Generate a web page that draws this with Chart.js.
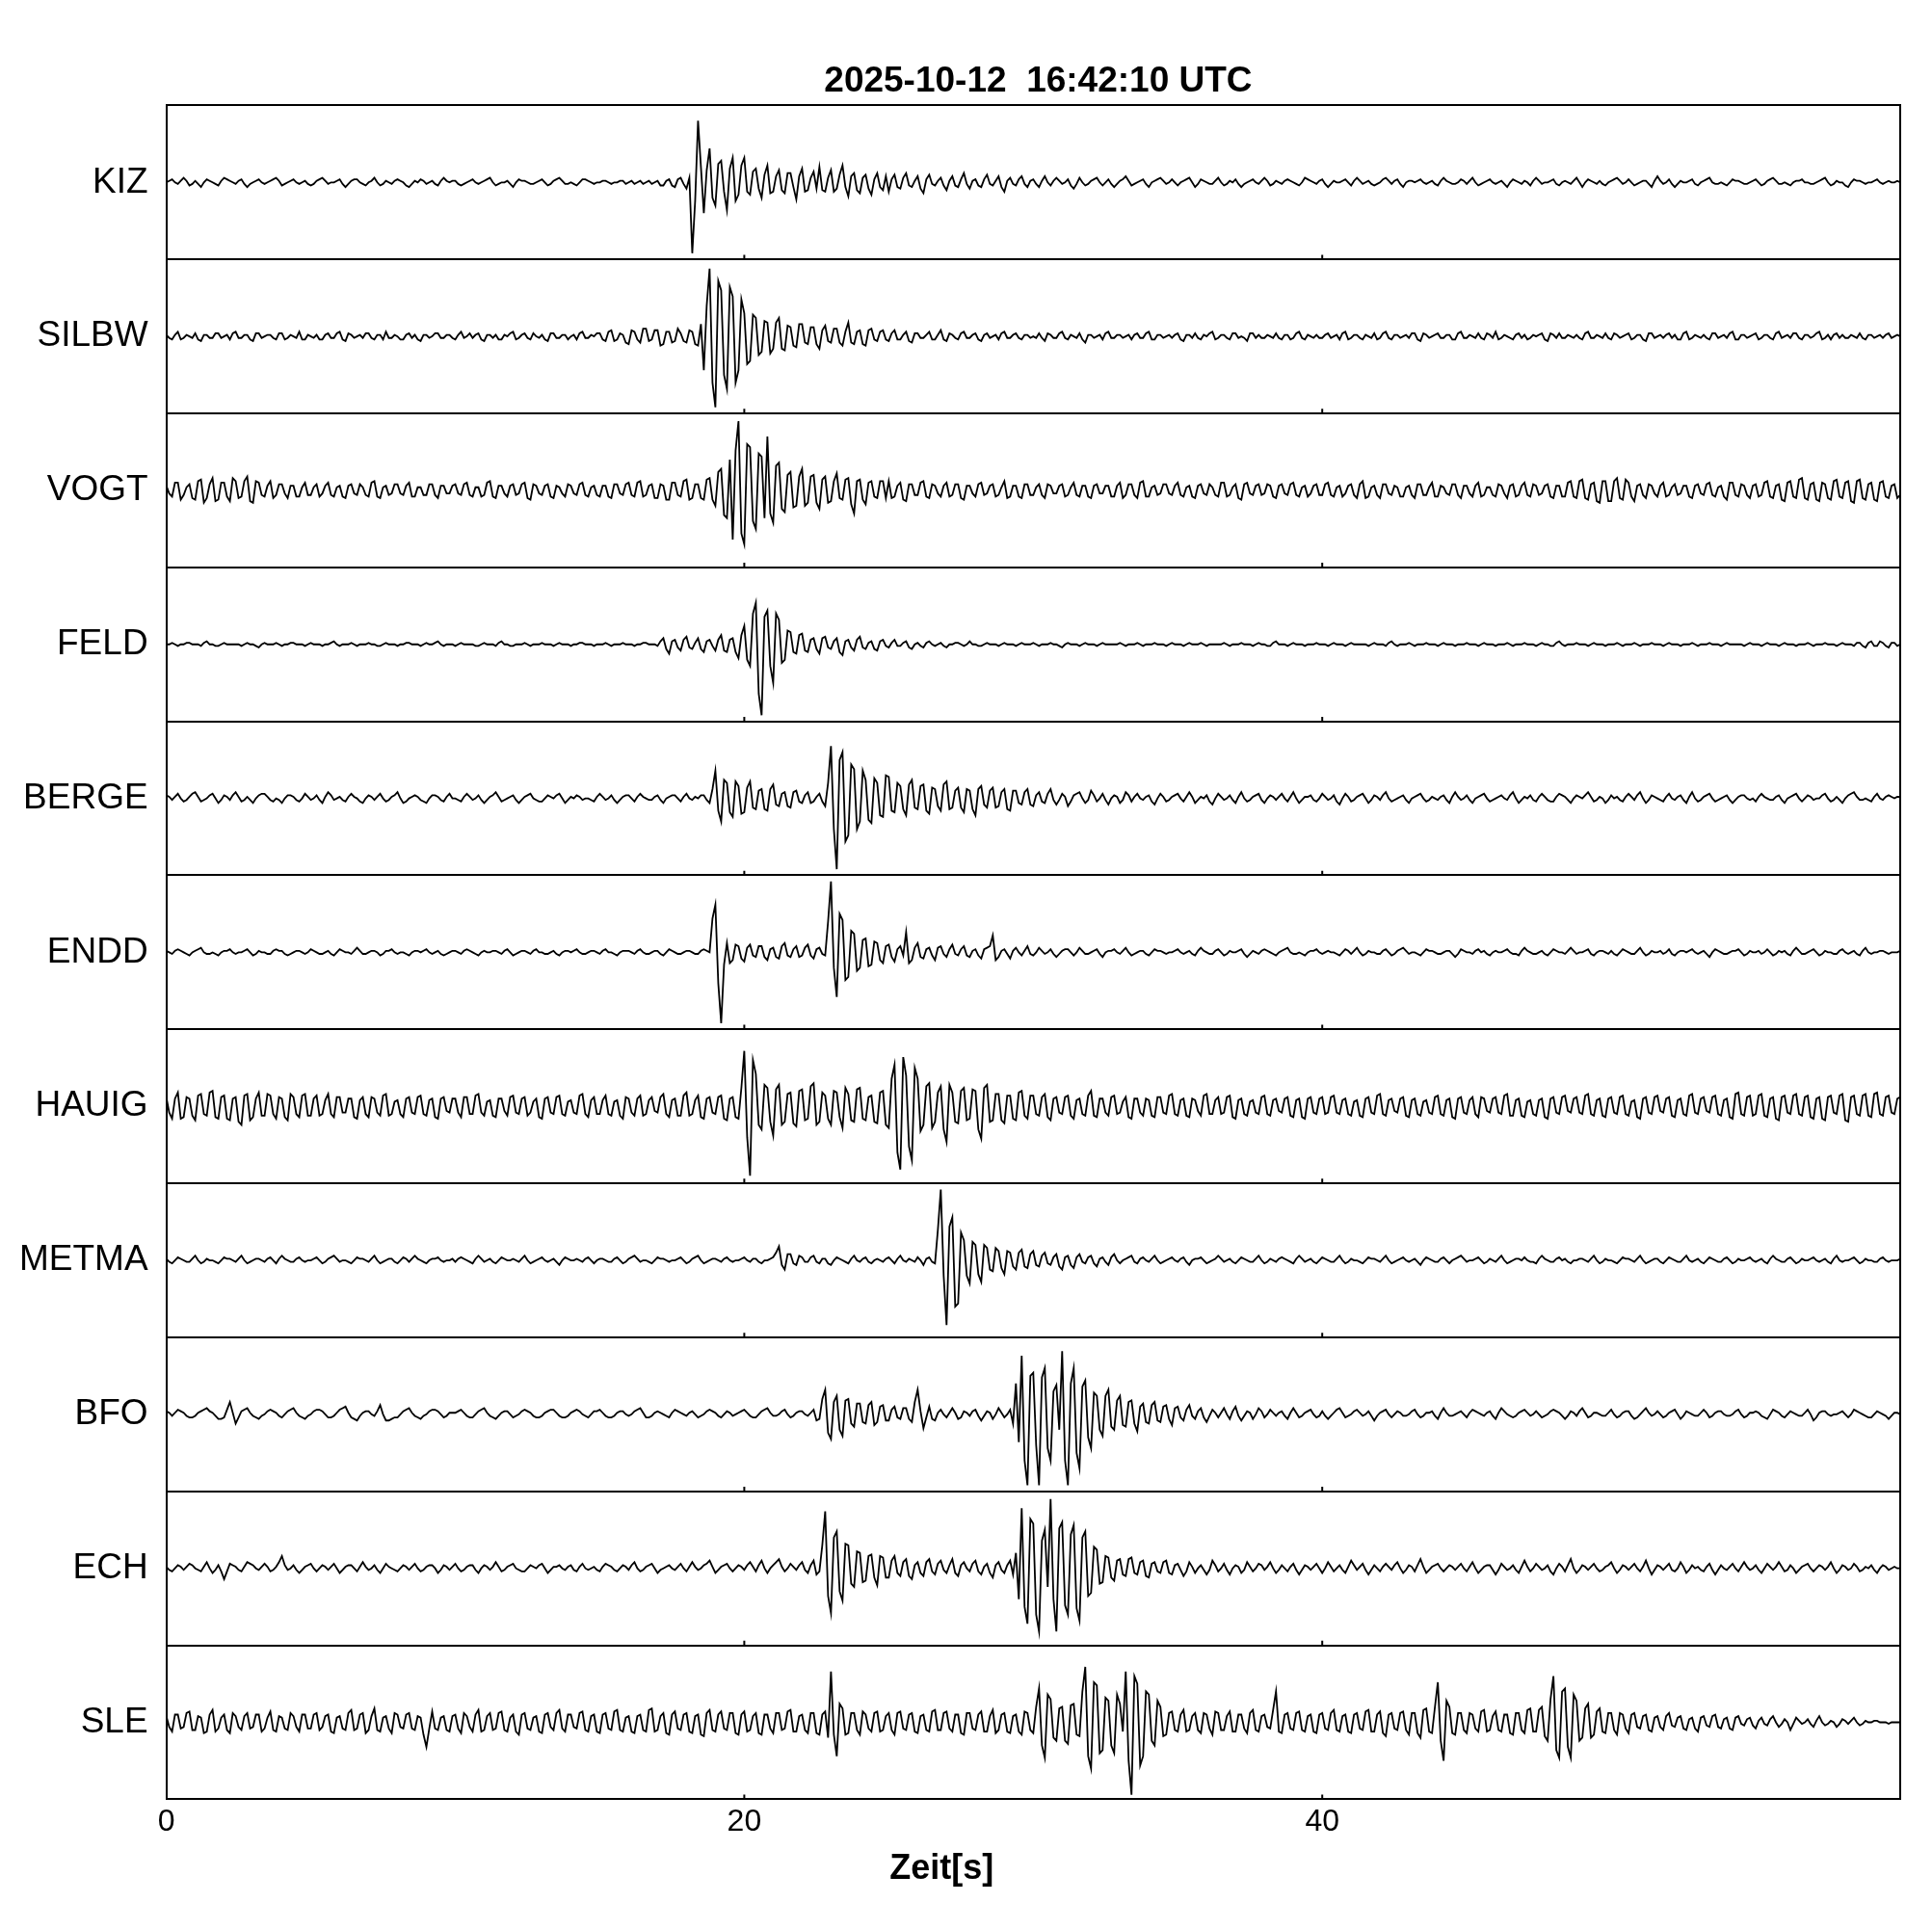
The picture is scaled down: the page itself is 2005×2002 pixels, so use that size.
<!DOCTYPE html>
<html>
<head>
<meta charset="utf-8">
<script src="https://cdn.jsdelivr.net/npm/chart.js@4/dist/chart.umd.min.js"></script>
<style>html,body{margin:0;padding:0;background:#fff;}canvas{display:block;}</style>
</head>
<body>
<canvas id="c" width="2005" height="2002"></canvas>
<script>
const titleText = '2025-10-12  16:42:10 UTC';
const xAxisTitle = 'Zeit[s]';
const stations = ['KIZ','SILBW','VOGT','FELD','BERGE','ENDD','HAUIG','METMA','BFO','ECH','SLE'];
const sampleInterval = 0.1; // seconds between samples
const xTickValues = [0, 20, 40];
const xMin = 0, xMax = 60;

// amplitudes: +-50 = half panel height; one row = 5 s
const KIZ = [
0,1,2,0,-1,1,3,1,-2,-1,1,-1,-3,0,2,1,0,-1,-2,1,3,2,1,0,-1,1,2,-1,-3,-1,0,1,2,0,-1,0,1,2,3,1,-2,-1,0,1,2,0,-1,0,1,-1,
-2,-1,1,2,3,1,-1,0,0,1,2,-1,-3,-1,1,2,2,0,-1,-2,0,1,3,0,-2,-1,1,0,-1,1,2,1,0,-2,-3,-1,1,0,2,1,-1,0,1,-1,-2,1,3,1,0,1,
1,-1,-2,-1,0,1,2,0,-1,0,1,2,3,0,-2,-1,0,0,1,-1,-3,0,2,1,1,0,-1,-1,0,1,2,0,-2,-1,1,2,3,1,-1,-1,0,-1,-2,0,2,2,1,0,-1,0,
0,1,1,0,-1,0,0,1,1,-1,0,1,-1,0,1,-1,0,1,-1,0,1,-2,-2,1,2,-2,-3,2,3,-1,-4,3,-46,-12,40,10,-20,8,22,-10,-15,12,14,-6,-18,9,16,-12,-8,11,
16,-6,-8,7,9,-4,-10,5,11,-7,-6,4,8,-5,-7,6,6,-3,-11,4,9,-6,-5,3,7,-4,10,-5,-6,3,8,-6,-4,5,11,-3,-9,4,6,-5,-7,3,5,-4,-8,2,6,-3,-5,4,
-6,2,5,-3,-4,3,6,-2,-3,1,4,-4,-7,2,5,-1,-2,1,3,-2,-5,1,4,-2,-3,2,6,-1,-4,1,2,-2,-3,2,5,-1,-2,1,4,-3,-6,1,3,-1,-2,2,4,-1,-3,1,
2,-1,-3,1,4,0,-2,1,3,1,-1,0,2,-2,-4,-1,3,0,-2,-1,1,2,3,0,-2,0,2,-1,-3,-1,1,2,4,1,-2,-1,0,1,2,-1,-3,0,1,2,3,1,-1,0,2,0,
-2,0,1,2,3,0,-3,-1,2,1,0,-1,-1,1,3,0,-2,-1,1,0,2,-1,-3,-1,0,1,2,0,-1,1,3,1,-2,-1,1,0,-1,1,2,1,0,-1,-2,0,3,2,1,0,-1,1,
2,-1,-3,-1,1,0,0,1,2,0,-2,1,3,1,-1,0,1,-1,-2,-1,0,2,3,1,-1,1,2,-1,-3,0,1,1,0,1,2,0,-1,0,1,-1,-2,1,3,1,0,-1,-1,0,2,1,
-1,1,3,0,-2,-1,0,1,2,0,-1,0,1,-1,-3,0,2,1,0,-1,1,0,-2,1,3,1,-1,0,0,1,2,-1,-2,0,1,0,-1,1,3,0,-3,0,2,1,0,-1,1,-1,-2,0,
1,2,3,1,-1,0,2,0,-2,-1,0,1,1,-1,-3,1,4,1,-1,0,2,-1,-3,-1,1,0,0,1,2,-1,-2,0,1,2,3,0,-1,-1,0,-1,-2,0,2,1,1,0,-1,-1,0,1,
2,0,-2,-1,1,2,3,1,-1,-1,0,-1,-2,0,1,1,2,0,0,-1,-1,0,1,2,3,0,-2,-1,1,0,0,-2,-3,0,2,1,1,0,-1,0,0,1,2,0,-1,0,1,0,0,1,0];

const SILBW = [
1,-1,-2,1,3,-2,-1,1,0,-1,2,-2,-3,1,1,-1,-1,2,2,-1,0,1,-2,2,3,-1,-1,1,1,-2,-3,2,2,-1,0,1,1,-1,-2,2,2,-2,-1,1,0,-1,3,-2,-2,1,
0,-1,1,-2,-2,1,2,-1,-1,2,3,-2,-3,2,1,-1,0,1,-1,2,2,-1,-2,1,1,-2,3,-1,-1,1,0,-2,-2,1,2,-1,1,-2,-3,1,1,-1,0,2,2,-1,-1,1,1,-1,
-2,1,3,-1,0,2,-1,1,2,-2,-3,1,1,-1,1,-2,-2,1,0,2,3,-2,-1,1,2,-1,-2,2,0,-1,1,-2,-3,2,2,-1,-1,1,1,-2,0,1,-2,2,3,-1,-1,1,0,2,
2,-2,-3,3,4,-3,-2,2,1,-4,-5,4,3,-2,-4,5,5,-3,-2,4,4,-6,-5,3,3,-4,-3,5,2,-3,-4,4,3,-5,-6,8,-22,20,44,-30,-46,36,30,-25,-34,32,26,-30,-22,24,
15,-18,-16,14,12,-12,-10,10,9,-11,-8,9,12,-8,-9,7,6,-6,-7,8,8,-4,-5,6,6,-5,-8,4,7,-3,-4,5,5,-4,-6,3,9,-4,-5,3,4,-5,-6,4,5,-2,-3,3,4,-2,
-3,2,4,-2,-2,1,3,-3,-4,2,2,-1,-1,1,3,-2,-2,1,4,-2,-3,2,1,-1,-2,2,3,-1,-1,1,2,-2,-3,1,2,-1,0,1,-2,2,3,-1,-1,1,2,-1,-2,1,1,-1,
0,-1,2,-1,-3,2,1,-1,-1,2,3,-1,-2,1,0,-1,2,-2,-4,1,1,-1,0,1,-2,2,3,-1,-1,1,1,-1,0,1,-2,1,2,-1,-1,2,3,-2,-2,1,1,-1,0,1,-1,1,
2,-2,-3,1,1,-1,2,-1,-2,1,0,2,3,-2,-1,1,1,-1,-2,2,2,-1,0,-1,-3,2,2,-1,1,-1,-1,1,0,-1,2,-1,-2,1,1,-2,-1,2,3,-1,-2,1,0,-1,1,-1,
-1,1,2,-1,0,1,-2,2,3,-2,-1,1,1,-1,-2,1,0,-1,2,-2,-1,2,3,-1,-2,1,1,-1,0,1,-1,2,2,-2,-3,2,1,-1,0,1,2,-1,-1,1,1,-2,-2,2,3,-1,
-1,1,0,-1,2,-1,-2,2,1,-1,3,-2,-1,1,0,-1,-2,1,2,-1,1,-2,-1,1,0,1,2,-2,-3,2,1,-1,2,-1,-1,1,0,-1,1,-1,-2,2,3,-1,-1,1,0,-1,2,-1,
-2,2,1,-1,0,1,2,-2,-1,1,1,-2,-3,2,2,-1,0,1,-1,1,2,-1,1,-2,-2,2,3,-2,-1,1,0,-1,1,-1,-2,2,2,-1,0,1,-1,2,3,-2,-2,1,1,-1,0,1,
2,-2,-1,1,1,-1,-2,2,3,-1,0,1,-1,2,2,-1,-2,1,1,-1,0,2,3,-2,-1,1,-2,1,2,-1,1,-1,-1,1,0,-1,2,-1,-2,1,1,-1,0,1,-1,1,2,-1,0,1,0];

const VOGT = [
3,-2,-4,5,5,-6,-3,2,4,-5,-6,6,7,-8,-5,4,8,-7,-6,5,5,-4,-7,8,6,-5,-4,6,9,-7,-8,6,5,-3,-4,3,6,-5,-3,4,4,-2,-5,3,3,-4,-4,2,5,-3,
-3,2,4,-4,-2,3,5,-3,-4,2,3,-4,-5,3,4,-2,-3,4,2,-3,-4,5,6,-4,-5,2,3,-3,-2,4,4,-2,-3,3,5,-4,-4,2,2,-3,-3,4,4,-3,-5,3,3,-2,-2,3,
4,-2,-3,4,5,-3,-4,2,2,-4,-3,5,6,-4,-5,3,3,-2,-4,3,4,-3,-2,4,5,-5,-6,4,3,-2,-3,3,4,-4,-5,3,2,-2,-4,4,3,-2,-3,4,5,-3,-4,2,3,-3,
-4,3,3,-4,-5,4,4,-2,-3,4,5,-3,-4,5,6,-4,-3,3,4,-5,-5,4,3,-6,-6,5,5,-3,-4,6,7,-6,-5,4,4,-5,-6,7,8,-6,-10,12,14,-16,-18,20,-32,26,45,-28,
-35,30,28,-20,-25,24,22,-18,35,-15,-21,16,18,-12,-14,10,12,-11,-10,9,14,-10,-8,9,10,-8,-12,7,9,-8,-7,6,11,-5,-6,7,8,-9,-15,6,7,-6,-9,5,6,-4,-5,6,6,-5,
6,-5,-4,3,5,-6,-7,4,4,-3,-3,5,6,-4,-5,4,3,-2,-4,3,5,-4,-3,4,4,-5,-6,3,3,-2,-4,4,5,-3,-2,3,4,-4,-3,2,6,-5,-4,3,3,-4,-5,4,4,-3,
-3,2,4,-3,-5,4,3,-2,-2,3,4,-4,-3,2,5,-3,-4,3,3,-4,-5,3,4,-2,-2,3,3,-4,-4,3,5,-5,-3,4,4,-3,-5,5,6,-4,-4,2,3,-3,-2,4,4,-2,-3,3,
5,-3,-4,2,3,-4,-5,3,4,-2,-3,4,2,-3,-4,5,5,-4,-3,2,4,-5,-6,4,5,-2,-3,3,4,-3,-2,4,3,-4,-5,3,4,-2,-3,4,5,-3,-4,2,3,-4,-2,3,4,-3,
-3,4,5,-3,-4,2,3,-4,-2,3,4,-3,-5,4,6,-5,-4,2,3,-3,-5,4,4,-2,-3,3,2,-4,-4,2,3,-3,-5,4,4,-3,-3,2,5,-4,-4,3,2,-2,-3,4,4,-3,-5,3,
3,-2,-4,3,5,-4,-3,2,2,-3,-4,4,3,-2,-5,3,4,-4,-3,3,5,-3,-4,4,3,-3,-2,3,4,-4,-5,3,3,-4,-4,5,6,-4,-5,6,7,-5,-6,4,5,-7,-8,6,6,-7,
-7,6,8,-5,-6,7,5,-4,-7,3,4,-3,-5,4,3,-2,-4,3,5,-4,-3,2,4,-3,-2,3,3,-4,-5,3,4,-2,-3,4,5,-3,-4,2,3,-4,-6,5,5,-3,-4,4,3,-3,-5,3,
4,-4,-3,5,6,-4,-5,3,4,-6,-7,5,6,-4,-5,7,8,-5,-6,4,5,-6,-7,5,4,-5,-6,6,7,-4,-5,5,6,-7,-8,6,7,-5,-6,4,5,-6,-7,5,6,-4,-5,3,4,-5,-3];

const FELD = [
0,0,1,0,-1,0,0,1,1,0,0,0,-1,1,2,0,0,-1,-1,0,1,0,0,0,0,0,-1,0,1,0,0,-1,-2,0,1,0,0,0,1,0,-1,0,0,1,1,0,0,0,-1,0,
1,0,0,0,-1,0,0,1,2,0,-1,0,0,0,1,0,-1,0,0,0,1,0,0,-1,-1,0,1,0,0,0,-1,0,0,1,1,0,0,0,-1,0,1,0,0,1,2,0,-1,0,0,0,
-1,0,1,0,0,0,0,-1,-1,0,1,0,0,0,-1,1,2,0,0,-1,-1,0,0,0,1,0,-1,0,0,0,1,0,0,0,-1,0,1,0,0,0,-1,0,0,1,1,0,0,0,-1,0,
0,0,1,0,-1,0,0,0,1,0,0,0,-1,0,0,1,1,0,0,0,-1,2,4,-3,-6,2,3,-2,-4,3,5,-2,-3,1,4,-3,-5,2,3,-1,-4,3,6,-4,-5,3,4,-5,-9,6,
12,-10,-14,20,27,-32,-46,18,22,-14,-25,20,16,-12,-10,9,8,-5,-6,6,7,-4,-5,3,4,-3,-6,4,5,-2,-3,2,4,-5,-7,2,3,-2,-4,3,5,-2,-3,1,2,-3,-4,2,3,-1,
-2,1,3,-1,-1,1,2,-2,-3,0,1,-1,-2,1,2,0,-1,0,1,-1,-2,0,0,1,1,0,-1,0,2,0,0,-1,-1,0,1,0,0,0,-1,0,1,0,0,0,-1,0,1,0,0,0,
1,0,-1,0,0,0,1,0,0,-1,-2,0,1,0,0,0,-1,0,1,0,0,0,-1,0,1,0,0,0,0,0,1,0,-1,0,0,0,1,0,-1,0,0,0,1,0,0,0,-1,0,1,0,
0,0,-1,0,1,0,0,0,1,0,-1,0,0,0,0,0,1,0,-1,0,0,0,1,0,0,0,-1,0,1,0,0,-1,-1,1,2,0,0,0,-1,0,1,0,0,0,-1,0,0,0,1,0,
0,0,-1,0,1,0,0,0,-1,0,1,0,0,0,0,0,-1,0,1,0,0,0,-1,1,2,0,-1,0,0,0,1,0,-1,0,0,0,1,0,0,0,-1,0,1,0,0,0,-1,0,0,0,
1,0,0,0,-1,0,1,0,0,0,-1,0,0,0,1,0,-1,0,0,0,1,0,0,0,-1,0,1,0,0,-1,-1,1,2,0,-1,0,0,0,1,0,0,0,-1,0,1,0,0,0,-1,0,
0,0,1,0,-1,0,0,0,1,0,-1,0,0,0,1,0,0,0,-1,0,1,0,0,0,-1,0,0,0,1,0,-1,0,0,0,1,0,0,0,-1,0,1,0,0,0,0,0,-1,0,1,0,
0,0,-1,0,1,0,0,0,-1,0,1,0,0,0,-1,0,0,0,1,0,-1,0,0,0,1,0,0,0,-1,0,1,0,0,0,-1,1,1,-1,-2,1,2,-1,-1,2,1,-1,-2,1,1,-1,0];

const BERGE = [
2,1,-1,1,3,0,-2,-1,1,3,4,1,-2,-1,0,2,3,0,-3,-1,2,1,-1,2,4,1,-2,-1,1,-1,-3,0,2,3,3,1,-1,-2,0,-1,-3,0,2,2,1,-1,-2,0,3,1,
-1,0,2,-1,-3,1,4,2,-1,0,1,-1,-2,1,3,1,0,-2,-3,0,2,1,-1,1,3,0,-2,-1,1,2,4,0,-3,-2,0,1,2,1,-1,-2,-3,0,2,2,1,-1,-2,1,3,0,
0,-1,-2,1,3,1,-1,0,2,-1,-3,-1,1,2,4,1,-2,-1,0,1,2,-1,-3,-1,1,2,3,0,-1,-2,-2,0,2,1,0,2,3,0,-3,-1,1,0,2,1,-1,0,0,-1,-2,1,
3,1,-1,0,2,-1,-3,-1,1,2,2,0,-2,1,3,1,0,-1,-1,1,2,-1,-3,0,1,2,2,0,-2,1,3,0,-1,1,0,2,2,-1,-3,6,18,-8,-15,12,10,-9,-12,11,8,-10,
-9,7,11,-6,-7,5,6,-7,-8,6,9,-4,-5,3,4,-5,-6,4,5,-2,-3,2,4,-3,-2,1,3,-2,-5,10,34,-20,-46,25,30,-28,-24,22,19,-20,-15,18,12,-14,-16,13,10,-11,-12,15,
14,-8,-9,10,8,-7,-11,9,12,-6,-7,8,9,-8,-10,7,6,-5,-8,9,11,-7,-6,5,7,-6,-9,6,5,-7,-11,6,8,-4,-6,5,7,-6,-5,4,6,-7,-8,5,5,-3,-4,4,6,-4,
-5,2,4,-2,-3,3,6,-1,-4,-1,3,1,-5,-2,2,3,4,0,-3,-1,5,2,-2,0,3,-1,-4,0,2,1,-3,-1,4,2,-2,1,3,0,-1,1,2,-2,-4,0,3,1,-2,-1,1,2,
3,0,-2,1,4,1,-3,-1,1,0,2,-2,-4,0,3,1,-1,0,2,-1,-3,1,4,0,-2,-1,1,2,3,-1,-3,0,2,1,-1,1,3,0,-2,1,4,0,-3,-1,1,1,2,-1,-2,0,
3,1,-1,0,2,-2,-4,0,3,1,-2,-1,1,2,3,0,-3,-1,2,1,-1,2,4,0,-2,-1,0,1,2,-1,-3,0,1,2,3,0,-2,-1,1,0,-1,1,2,-1,-3,1,4,1,-1,0,
2,-1,-3,0,1,2,3,0,-2,-1,0,1,2,0,-1,2,4,0,-3,-1,1,0,2,-1,-2,1,3,1,-1,-2,-2,1,3,2,1,-1,-3,0,2,1,0,2,4,1,-2,-1,1,0,-3,-1,
2,0,1,-1,-2,1,3,1,-1,2,4,0,-3,-1,2,1,0,-1,-2,1,3,0,-1,1,2,-1,-3,1,4,0,-2,-1,1,2,3,0,-2,-1,0,1,2,-1,-3,-1,1,2,2,0,-1,0,
-2,1,3,1,0,-1,-1,1,2,-1,-3,0,1,2,3,0,-2,0,2,1,-1,0,0,2,3,0,-2,-1,1,-1,-3,0,2,3,4,1,-1,-1,0,-1,-2,1,3,0,-1,1,2,1,0,1,1];

const ENDD = [
1,0,-1,1,2,1,0,-1,-2,0,1,2,3,0,-1,-1,0,-1,-2,0,1,1,2,0,-1,0,0,1,2,0,-2,-1,1,0,0,-1,-1,1,2,1,1,-1,-2,-1,0,1,1,0,-1,0,
2,1,0,-1,-1,0,1,-1,-2,0,2,1,0,0,-1,1,3,1,-1,-1,0,1,1,0,-2,-1,1,1,2,0,-1,0,0,-1,-2,0,1,1,0,1,2,0,-1,0,1,-1,-2,-1,0,1,
1,0,-1,1,2,1,0,-1,-2,0,1,0,0,1,1,0,-1,1,2,0,-2,-1,0,1,1,0,-1,1,2,0,0,-1,-1,0,1,-1,-2,0,1,1,0,1,2,0,-1,-1,0,1,1,0,
-1,1,2,0,0,-1,-2,0,1,1,1,0,-1,1,2,0,-1,-1,0,1,1,-1,-2,0,2,1,0,-1,-1,0,1,1,0,-1,-1,1,2,1,0,22,31,-20,-46,-8,6,-7,-5,5,4,-4,
-6,3,5,-2,-3,4,4,-3,-5,2,3,-3,-4,4,6,-2,-3,2,4,-3,-2,3,5,-2,-4,2,3,-1,-2,20,46,-10,-29,25,21,-18,-16,14,12,-12,-10,8,9,-9,-8,7,6,-5,-7,4,
5,-3,-6,2,4,-2,13,-7,-5,3,6,-3,-4,2,3,-2,-5,3,4,-1,-3,2,5,-1,-2,2,4,-2,-3,1,2,-2,-4,2,3,4,11,-5,-3,1,2,-1,-4,1,3,0,-2,1,4,-1,
-2,0,3,1,-1,0,2,-1,-3,-1,1,2,2,0,-2,0,3,1,-1,-1,0,1,2,-1,-3,0,1,1,2,0,-1,1,3,0,-2,-1,0,1,1,-1,-2,0,2,1,1,0,-1,0,0,1,
2,0,-1,0,1,-1,-2,1,3,1,0,-1,-1,1,2,0,-2,-1,1,0,0,1,2,-1,-3,-1,1,0,-1,1,2,1,0,-1,-2,0,1,2,3,0,-1,-1,0,-1,-2,0,1,1,2,0,
-1,0,1,0,0,-1,-2,0,2,1,-1,1,3,0,-2,-1,1,0,0,-1,-1,1,2,0,-2,-1,1,2,3,1,-1,0,0,-1,-2,0,2,1,1,0,-1,-1,0,1,1,-1,-3,-1,2,1,
0,0,-1,1,2,0,1,-1,-2,0,1,0,0,1,2,0,-1,-1,-2,1,3,1,0,-1,-1,0,1,-1,-2,0,2,1,0,0,-1,1,3,1,-1,0,0,1,2,-1,-2,0,1,1,0,-1,
1,-1,-2,0,2,1,0,-1,-1,1,3,0,-2,-1,1,0,0,1,-1,0,2,-1,-2,0,1,1,0,1,2,0,-1,0,1,-1,-3,0,2,1,0,-1,-1,0,1,1,2,0,-2,-1,1,0,
0,1,-1,0,2,0,-2,-1,1,0,1,-1,-2,1,3,1,-1,-1,0,1,2,0,-2,-1,1,0,0,-1,-1,1,2,0,-1,0,1,-1,-2,1,3,0,-1,0,0,1,1,0,-1,0,0,0,1];

const HAUIG = [
6,-4,-8,5,9,-8,-7,6,5,-6,-9,7,8,-5,-6,9,10,-7,-8,6,7,-8,-9,5,6,-10,-12,7,8,-9,-7,5,9,-6,-6,8,7,-5,-8,6,5,-7,-9,8,6,-5,-7,7,8,-6,
-6,5,7,-6,-5,4,8,-5,-7,6,6,-4,-4,5,5,-7,-8,4,6,-5,-7,6,5,-4,-6,7,8,-6,-5,3,4,-5,-7,5,6,-4,-5,6,7,-5,-6,4,5,-7,-8,5,6,-3,-4,5,
5,-4,-7,6,6,-5,-5,7,8,-4,-6,3,4,-6,-7,5,5,-3,-6,6,7,-4,-5,5,6,-6,-4,3,5,-7,-8,5,6,-4,-5,6,7,-5,-6,3,4,-4,-5,7,8,-5,-7,4,6,-5,
-5,4,7,-5,-6,3,4,-6,-8,6,5,-4,-6,5,7,-6,-5,4,6,-3,-4,6,8,-5,-7,4,5,-6,-6,7,9,-6,-5,4,7,-7,-8,5,6,-4,-5,6,7,-8,-9,5,6,-7,-8,12,
36,-20,-45,30,21,-12,-15,14,12,-10,-19,11,14,-12,-10,8,9,-11,-13,10,11,-9,-8,13,15,-12,-10,9,7,-8,-12,10,9,-7,-14,12,8,-9,-10,11,12,-8,-9,6,7,-10,-11,9,10,-12,
-14,18,27,-30,-41,32,20,-26,-35,25,18,-16,-12,13,15,-14,-10,9,13,-15,-23,14,9,-10,-11,10,12,-9,-8,11,10,-15,-21,12,14,-10,-9,8,8,-9,-11,7,7,-8,-9,9,10,-6,-8,7,
7,-5,-6,6,8,-7,-9,5,6,-4,-5,6,7,-6,-8,4,5,-5,-6,7,10,-6,-7,5,5,-4,-6,6,7,-5,-4,3,6,-7,-8,5,5,-4,-6,5,4,-6,-7,6,6,-4,-5,7,8,-5,
-6,4,5,-6,-7,5,4,-3,-6,7,8,-5,-5,4,6,-5,-4,6,7,-7,-8,4,5,-5,-6,3,4,-4,-5,6,7,-5,-6,4,5,-3,-4,5,6,-6,-7,4,5,-7,-8,5,6,-4,-5,5,
6,-5,-4,6,7,-4,-5,4,5,-5,-6,3,4,-6,-7,5,6,-4,-5,7,8,-5,-6,4,5,-3,-4,5,6,-6,-7,4,5,-5,-6,3,4,-4,-5,6,7,-5,-6,4,5,-7,-8,5,6,-4,
-5,4,6,-5,-7,6,5,-3,-4,5,6,-4,-5,7,8,-6,-6,4,5,-6,-7,3,4,-5,-6,4,5,-7,-8,5,6,-4,-5,6,7,-3,-4,5,6,-4,-5,7,8,-5,-6,4,5,-6,-7,5,
6,-4,-5,6,7,-5,-6,3,4,-7,-8,5,6,-4,-5,6,7,-3,-4,5,6,-6,-7,4,5,-5,-6,7,8,-4,-5,5,6,-3,-4,6,7,-5,-6,4,5,-7,-8,8,9,-5,-6,6,7,-6,
-5,7,8,-6,-7,5,6,-8,-9,6,7,-4,-5,7,8,-5,-6,6,7,-7,-8,5,6,-8,-9,6,7,-4,-5,7,8,-9,-10,6,7,-5,-6,7,8,-6,-7,8,9,-5,-6,6,7,-4,-5,5,6];

const METMA = [
1,-1,-2,0,2,1,0,-1,-1,1,3,0,-2,-1,1,0,0,-1,-2,0,2,1,1,0,-1,1,3,0,-2,-1,0,1,1,0,-1,1,2,0,-2,1,3,1,0,-1,-1,1,2,0,-1,0,
0,1,2,0,-2,-1,1,2,3,1,-1,0,0,-1,-2,0,2,1,1,0,-1,1,3,0,-2,-1,0,1,1,-1,-2,0,2,1,-1,1,3,1,0,-1,-2,0,1,1,2,0,-1,0,0,1,
-1,1,2,1,0,-1,-2,1,3,1,-1,0,1,-1,-2,0,2,1,0,0,1,0,-1,1,3,0,-2,-1,0,1,2,0,-1,0,1,-1,-3,0,2,1,0,0,1,0,-1,1,2,0,-2,0,
1,1,0,-1,-1,1,2,0,-2,-1,1,2,3,1,-1,0,0,-1,-2,0,2,1,1,0,-1,0,0,1,2,0,-2,-1,1,2,3,0,-2,-1,0,1,1,0,-1,1,2,0,-1,0,0,1,
2,0,-1,1,1,-1,-2,0,0,1,2,5,9,-3,-6,4,4,-2,-3,3,2,-1,-1,2,3,-1,-2,1,1,-2,-3,0,2,1,0,-1,-2,1,3,0,-1,1,2,-1,-2,0,1,0,-1,1,
2,0,-2,1,3,0,-1,1,0,-1,2,0,-3,1,2,-1,-2,20,46,-10,-42,22,28,-30,-28,18,13,-10,-15,12,10,-9,-14,10,8,-6,-7,8,6,-5,-9,6,5,-4,-6,5,7,-4,-5,4,
6,-3,-4,3,5,-2,-3,2,4,-4,-6,2,3,-3,-5,2,4,-1,-2,2,3,-2,-4,1,2,-1,-3,2,4,0,-2,0,1,2,3,-1,-2,1,2,0,-1,1,3,0,-2,-1,0,1,2,0,
-1,1,2,-1,-3,0,1,1,2,0,-2,-1,0,1,3,1,-1,0,1,-1,-2,0,2,1,0,-1,-1,1,3,0,-2,-1,1,0,-1,1,2,1,0,-1,-2,1,3,1,-1,0,1,-1,-2,0,
2,1,0,-1,-1,1,3,0,-2,-1,1,0,0,-1,-2,0,2,1,1,0,-1,1,3,0,-2,-1,0,1,2,0,-1,0,1,-1,-3,0,2,1,0,-1,-1,1,2,0,-2,0,1,2,3,1,
-1,0,0,1,2,0,-2,-1,1,0,-1,1,3,0,-2,-1,0,1,1,0,2,0,-1,-1,-2,1,3,1,0,-1,-1,1,2,0,1,-1,-2,0,0,1,1,0,-1,1,3,0,-2,-1,1,0,
0,-1,-2,0,2,1,1,0,-1,1,3,0,-2,-1,0,1,1,-1,-2,0,2,1,0,-1,-1,1,3,0,-1,0,1,-1,-2,0,2,1,0,-1,-1,1,2,0,-2,-1,1,0,0,1,2,0,
-1,0,1,-1,-2,1,3,1,0,-1,-1,1,2,0,-2,-1,1,0,0,1,2,0,-1,0,1,-1,-2,1,3,0,-1,0,0,1,2,0,-2,-1,1,0,0,-1,-1,1,2,0,-1,0,0,0,1];

const BFO = [
2,1,-1,1,3,2,1,-1,-2,-2,-1,1,2,3,4,2,1,-1,-3,-3,-2,3,8,1,-6,-2,2,3,4,1,-1,-2,-3,-1,0,2,3,2,1,-1,-2,0,2,3,4,1,-1,-2,-3,-1,
0,2,3,3,2,0,-2,-2,-1,1,3,4,5,1,-2,-3,-4,-1,1,2,2,0,-1,2,6,0,-4,-4,-3,-2,-2,0,2,3,4,1,-1,-2,-3,-1,0,2,3,3,2,0,-2,-1,1,1,
1,2,3,1,-1,-2,-2,0,2,3,4,1,-1,-2,-3,-1,1,2,2,0,-2,-1,0,2,3,2,1,-1,-2,-2,-1,1,2,3,3,1,-1,-2,-2,-1,1,2,3,2,0,-1,-2,0,2,2,
3,1,-1,-2,-2,-1,1,2,2,0,-1,0,2,3,4,1,-2,-2,-1,1,2,1,0,-1,-2,1,3,2,1,0,-1,1,2,0,-2,-1,0,2,3,2,1,-1,-2,0,2,1,-1,0,1,2,
3,1,-1,-2,-2,0,2,3,4,1,-1,-1,0,2,3,0,-2,-1,1,2,2,0,-1,1,3,-4,-3,10,16,-12,-16,8,12,-10,-14,9,10,-6,-8,7,7,-5,-6,6,8,-7,-5,5,6,-4,
-4,3,5,-2,-3,4,4,-3,-5,8,16,2,-9,-2,5,-3,-4,1,3,0,-2,1,4,1,-3,-2,2,1,-1,2,3,-1,-4,-1,2,1,-3,0,4,1,-2,0,3,-6,20,-18,38,-30,-46,25,
27,-20,-46,24,30,-22,-30,15,19,-10,41,-30,-46,20,30,-25,-35,18,22,-15,-22,14,12,-10,-14,12,16,-8,-10,9,12,-7,-8,8,9,-6,-11,5,7,-5,-6,6,8,-4,-5,5,6,-3,-7,4,
5,-2,-4,3,6,-1,-3,2,4,-2,-5,-1,3,1,-2,1,4,0,-3,2,5,-1,-4,-1,2,1,-3,0,4,2,-2,0,3,1,-1,1,2,-1,-3,1,4,1,-2,-1,1,2,3,0,-2,-1,
2,-1,-3,-1,1,3,4,1,-2,-1,0,2,3,1,-1,0,2,-1,-4,-1,1,2,3,0,-2,0,2,1,-1,-1,0,2,3,0,-2,-1,1,1,2,-1,-3,1,4,1,-1,-1,0,1,2,0,
-2,1,3,2,1,0,-1,1,2,-1,-3,1,4,2,0,-1,-2,-1,1,2,3,1,-1,0,2,0,-2,-1,0,2,3,2,1,-1,-3,-1,2,1,-1,2,4,1,-2,-1,1,1,0,-1,-1,1,
3,0,-2,-1,1,2,2,-1,-3,-2,0,2,4,1,-1,0,2,0,-2,-1,1,2,3,0,-3,-1,2,1,0,-1,-1,1,3,1,-2,-1,1,2,2,0,-1,-1,0,2,3,0,-2,-1,1,1,
2,1,-1,-2,-3,0,3,2,1,-1,-2,0,2,1,0,-1,-1,1,3,0,-4,-2,1,2,2,0,-1,0,0,1,2,0,-2,0,3,2,1,0,-1,-2,-2,0,2,1,0,-1,-3,-1,1,1,0];

const ECH = [
1,-1,-2,0,2,1,-1,1,3,2,0,-1,-2,1,4,0,-3,-1,2,-2,-7,-2,3,2,1,-1,-2,1,4,3,2,0,-1,1,3,1,-2,-1,1,4,8,2,-1,0,2,-1,-3,-1,1,2,
3,0,-2,0,2,1,-1,1,3,0,-3,-1,1,2,2,0,-2,1,4,1,-1,0,2,-1,-3,0,3,1,0,-1,-2,0,2,1,-1,1,3,0,-2,-1,1,2,2,0,-3,-1,2,1,-1,1,
3,0,-2,-1,1,2,2,-1,-3,0,2,1,-1,1,4,1,-2,-1,1,2,3,0,-1,-2,-2,0,2,1,0,2,3,0,-3,-1,1,1,2,0,-1,1,2,-1,-2,1,3,0,-1,0,1,-1,
-2,1,3,2,1,-1,-2,0,2,1,-1,2,4,0,-2,-1,1,2,3,0,-3,-1,0,1,2,0,-1,1,3,0,-2,1,4,1,-1,0,2,3,5,1,-3,-1,1,2,3,0,-2,0,2,1,
-1,2,4,1,-2,2,5,0,-3,0,2,4,6,1,-2,0,3,1,-1,2,4,-1,-3,2,5,-4,-2,15,37,-18,-29,20,24,-15,-21,16,15,-10,-12,11,10,-9,-8,8,9,-6,-11,8,7,-6,
-6,5,8,-3,-5,4,6,-5,-7,2,4,-3,-5,4,6,-2,-4,3,5,-1,-3,2,6,-3,-5,2,4,0,-2,3,5,-2,-4,1,3,-3,-6,2,4,-1,-3,2,5,-4,10,-20,39,-25,-36,32,
29,-30,-41,18,25,-12,45,-20,-41,26,30,-24,-30,22,28,-26,-34,20,24,-18,-16,14,12,-10,-9,8,7,-6,-8,5,6,-4,-5,6,7,-3,-4,4,5,-5,-6,3,4,-2,-3,4,5,-3,-4,2,
3,-1,-5,-2,4,1,-3,0,2,-1,-4,-1,5,2,-2,0,3,-1,-4,0,2,1,-3,-1,4,1,-2,0,3,2,-1,1,4,0,-3,-1,2,0,-2,1,3,-1,-4,-1,2,1,-1,1,3,0,
-3,0,4,1,-2,0,2,-1,-3,1,5,2,-1,1,3,-1,-4,-1,2,0,-2,1,3,1,-1,2,4,0,-3,-1,2,1,-2,2,6,1,-3,-1,1,2,3,0,-2,0,2,1,-1,1,3,0,
-2,1,4,0,-3,-1,1,2,2,-1,-4,-1,3,1,-1,0,2,-1,-3,1,5,1,-2,0,3,1,-1,0,2,-2,-4,0,3,1,-2,2,6,0,-3,-1,2,1,-1,1,3,0,-2,-1,1,2,
4,0,-3,-1,2,1,-1,1,3,0,-2,1,5,0,-4,-1,2,1,-1,1,3,-1,-2,0,4,1,-3,-1,2,0,1,-1,-2,1,3,-1,-4,-1,2,0,-1,1,3,0,-2,1,4,1,-1,0,
2,-1,-3,0,3,1,-1,1,4,1,-2,-1,2,0,-3,-1,1,2,3,0,-2,0,2,1,-1,1,4,0,-3,-1,2,1,-1,0,3,1,-2,-1,1,0,2,-1,-3,0,2,1,-1,0,1,0,0];

const SLE = [
4,-3,-6,5,5,-4,-3,6,7,-5,-5,4,3,-7,-6,5,8,-6,-4,3,5,-5,-7,6,4,-3,-5,4,6,-4,-3,5,5,-6,-4,3,7,-5,-6,4,3,-4,-5,6,4,-3,-6,5,5,-4,
-4,5,6,-5,-3,4,5,-6,-7,3,4,-4,-5,6,8,-5,-4,5,6,-7,-5,4,9,-5,-6,3,4,-4,-7,6,5,-3,-4,5,6,-4,-5,4,3,-8,-16,-4,7,-4,-5,3,4,-5,-6,4,
5,-4,-7,6,4,-3,-6,5,8,-6,-5,4,6,-5,-4,6,7,-5,-6,3,5,-6,-8,5,6,-4,-5,3,4,-6,-7,5,6,-3,-5,6,8,-4,-6,5,5,-3,-4,6,7,-5,-6,4,5,-6,
-7,5,6,-4,-5,7,8,-5,-6,3,4,-6,-7,4,5,-5,-6,8,9,-6,-5,4,6,-7,-8,5,7,-4,-5,5,6,-6,-7,4,5,-8,-9,6,8,-5,-6,5,7,-4,-5,6,6,-7,-8,5,
7,-6,-5,4,6,-7,-8,5,5,-4,-7,6,6,-5,-4,7,8,-6,-6,4,5,-5,-7,6,6,-7,-8,5,7,-10,33,-8,-22,12,9,-8,-7,6,6,-5,-8,7,5,-4,-6,6,7,-6,-5,4,
6,-5,-8,6,7,-4,-5,5,6,-6,-7,4,5,-5,-6,7,8,-5,-5,6,7,-4,-6,5,5,-7,-8,6,6,-4,-5,5,7,-6,-6,4,8,-7,-5,5,6,-6,-7,4,5,-6,-8,7,6,-5,
-7,10,22,-15,-23,18,15,-10,-12,9,10,-12,-14,11,12,-8,-9,20,36,-22,-30,26,24,-20,-18,16,14,-15,-20,18,12,-6,33,-25,-47,30,25,-28,-22,20,18,-12,-15,14,10,-9,-8,6,7,-5,
-6,5,8,-6,-5,4,6,-5,-7,6,5,-4,-8,7,6,-5,-5,4,7,-6,-6,5,5,-4,-7,6,8,-5,-6,4,5,-3,-4,8,20,-6,-7,5,6,-4,-5,6,7,-5,-6,4,5,-6,-7,5,
6,-4,-5,6,8,-5,-6,4,5,-6,-7,5,6,-4,-5,7,8,-6,-6,5,7,-7,-9,5,6,-4,-5,6,7,-5,-8,6,6,-7,-10,8,9,-6,-7,10,26,-12,-25,14,10,-7,-8,6,6,-5,
-7,6,5,-4,-6,7,8,-6,-5,4,7,-5,-6,5,5,-7,-8,6,6,-5,-7,8,9,-6,-6,8,10,-9,-12,15,30,-18,-23,20,22,-16,-23,18,14,-12,-10,9,12,-10,-8,7,9,-6,-7,6,
6,-5,-8,6,5,-4,-7,5,6,-3,-4,4,5,-5,-6,3,4,-3,-5,4,6,-2,-3,3,4,-4,-5,2,3,-4,-6,3,4,-2,-3,4,5,-3,-4,2,3,-4,-5,3,4,-1,-2,2,3,-2,
-4,1,3,-1,-2,2,4,0,-3,-1,2,0,-5,-1,3,1,-1,0,2,-1,-3,1,4,0,-2,-1,1,0,-3,-1,2,1,-1,1,3,0,-2,-1,1,0,0,1,1,0,0,0,-1,0,0,0,0];

const traces = [KIZ, SILBW, VOGT, FELD, BERGE, ENDD, HAUIG, METMA, BFO, ECH, SLE];
const nPanels = stations.length;
const FONT = "'Liberation Sans', Arial, Helvetica, sans-serif";

const traceSets = traces.map((vals, i) => ({
  label: stations[i],
  data: vals.map((v, k) => ({ x: k * sampleInterval, y: nPanels - 0.5 - i + v / 100 })),
  yAxisID: 'y',
  borderColor: '#000',
  borderWidth: 1.8,
  pointRadius: 0,
  fill: false,
  tension: 0,
  spanGaps: false
}));

// inward tick marks at the bottom of every panel
const tickMarks = [];
for (let p = 0; p < nPanels; p++) {
  for (const xv of xTickValues) {
    tickMarks.push({ x: xv, y: p }, { x: xv, y: p + 0.03 }, { x: xv, y: null });
  }
}
const tickSet = {
  label: 'ticks', data: tickMarks, yAxisID: 'y', borderColor: '#000', borderWidth: 2,
  pointRadius: 0, fill: false, spanGaps: false, tension: 0
};

new Chart(document.getElementById('c').getContext('2d'), {
  type: 'line',
  data: { datasets: [...traceSets, tickSet] },
  options: {
    responsive: false,
    animation: false,
    devicePixelRatio: 1,
    events: [],
    layout: { padding: { left: 1, right: 33, top: 0, bottom: 0 } },
    plugins: {
      legend: { display: false },
      tooltip: { enabled: false },
      title: {
        display: true, text: '\u00a0' + titleText, fullSize: false, color: '#000',
        font: { family: FONT, size: 37, weight: 'bold' },
        padding: { top: 63, bottom: 2 }
      }
    },
    scales: {
      x: {
        type: 'linear', position: 'bottom', min: xMin, max: xMax,
        afterBuildTicks: s => { s.ticks = xTickValues.map(v => ({ value: v })); },
        ticks: { color: '#000', font: { family: FONT, size: 32 }, padding: 5, maxRotation: 0, autoSkip: false,
                 callback: v => String(v) },
        grid: { display: false, drawTicks: false },
        border: { display: true, color: '#000', width: 2 },
        title: { display: true, text: xAxisTitle + '\u00a0'.repeat(19), color: '#000',
                 font: { family: FONT, size: 36, weight: 'bold' }, padding: { top: 3, bottom: 40 } }
      },
      y: {
        type: 'linear', position: 'left', min: 0, max: nPanels,
        afterBuildTicks: s => { s.ticks = stations.map((_, i) => ({ value: nPanels - 0.5 - i })); },
        ticks: { color: '#000', font: { family: FONT, size: 37 }, padding: 19, autoSkip: false,
                 callback: v => stations[Math.round(nPanels - 0.5 - v)] },
        grid: { display: false, drawTicks: false },
        border: { display: true, color: '#000', width: 2 }
      },
      yGrid: {
        type: 'linear', position: 'right', min: 0, max: nPanels,
        ticks: { display: false, stepSize: 1 },
        grid: { color: '#000', lineWidth: 2, drawTicks: false },
        border: { display: true, color: '#000', width: 2 }
      }
    }
  }
});
</script>
</body>
</html>
